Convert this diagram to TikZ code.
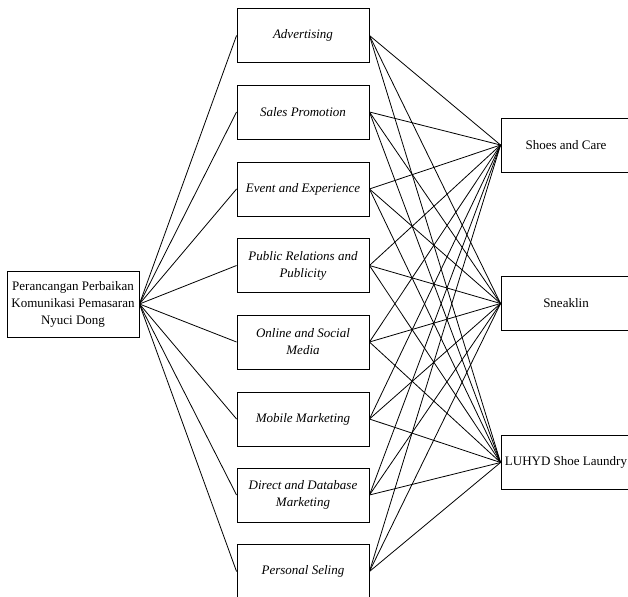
\documentclass[tikz,border=0pt]{standalone}
\usepackage{fontspec}
\setmainfont{Liberation Serif}
\begin{document}
\begin{tikzpicture}[x=1pt,y=-1pt,
  box/.style={draw, line width=0.9pt, rectangle, minimum width=132pt, minimum height=54pt, inner sep=0pt, align=center, font=\fontsize{13}{17}\selectfont},
  midbox/.style={box, font=\fontsize{13}{17}\selectfont\itshape},
  rbox/.style={box, minimum width=130pt},
  link/.style={line width=0.8pt}]
\useasboundingbox (0,0) rectangle (628,596);
\node[box, minimum height=66pt] (src) at (73,304) {Perancangan Perbaikan\\Komunikasi Pemasaran\\Nyuci Dong};
\node[midbox] (m1) at (303,35.5) {Advertising};
\node[midbox] (m2) at (303,112) {Sales Promotion};
\node[midbox] (m3) at (303,189) {Event and Experience};
\node[midbox] (m4) at (303,265.5) {Public Relations and\\Publicity};
\node[midbox] (m5) at (303,342) {Online and Social\\Media};
\node[midbox] (m6) at (303,419) {Mobile Marketing};
\node[midbox] (m7) at (303,495) {Direct and Database\\Marketing};
\node[midbox] (m8) at (303,571.5) {Personal Seling};
\node[rbox] (r1) at (566,145) {Shoes and Care};
\node[rbox] (r2) at (566,303.5) {Sneaklin};
\node[rbox] (r3) at (566,462.5) {LUHYD Shoe Laundry};
\foreach \m in {m1,m2,m3,m4,m5,m6,m7,m8}{
  \draw[link] (src.east) -- (\m.west);
  \foreach \r in {r1,r2,r3}{
    \draw[link] (\m.east) -- (\r.west);
  }
}
\end{tikzpicture}
\end{document}
